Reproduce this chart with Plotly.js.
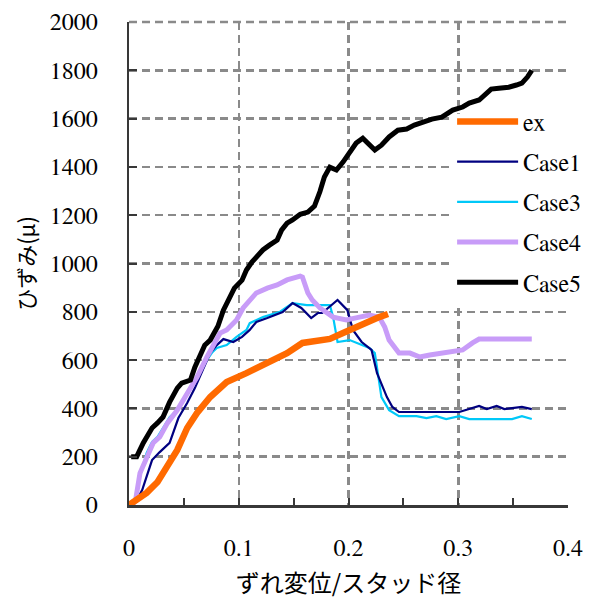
<!DOCTYPE html>
<html>
<head>
<meta charset="utf-8">
<script src="https://cdn.plot.ly/plotly-3.0.1.min.js"></script>
<style>
  html, body { margin: 0; padding: 0; background: #ffffff; }
  #chart { width: 593px; height: 599px; }
</style>
</head>
<body>
<div id="chart"></div>
<script>
// ずれ変位/スタッド径 vs ひずみ(μ)
const exX = [0, 0.007, 0.016, 0.026, 0.035, 0.044, 0.053, 0.062, 0.074, 0.089, 0.107, 0.126, 0.144, 0.158, 0.174, 0.183, 0.195, 0.207, 0.219, 0.228, 0.236];
const exY = [0, 21, 50, 95, 157, 228, 319, 381, 447, 509, 546, 588, 629, 671, 680, 688, 712, 737, 766, 778, 791];

const case1X = [0.003, 0.007, 0.012, 0.016, 0.021, 0.028, 0.037, 0.045, 0.053, 0.060, 0.067, 0.074, 0.080, 0.086, 0.095, 0.103, 0.110, 0.116, 0.126, 0.140, 0.149, 0.157, 0.166, 0.172, 0.176, 0.190, 0.199, 0.204, 0.212, 0.221, 0.226, 0.235, 0.240, 0.246, 0.301, 0.310, 0.319, 0.326, 0.335, 0.342, 0.349, 0.358, 0.367];
const case1Y = [0, 21, 62, 116, 186, 219, 257, 360, 422, 484, 559, 629, 662, 687, 675, 696, 725, 758, 774, 799, 836, 816, 774, 795, 795, 849, 807, 725, 675, 642, 546, 447, 406, 385, 385, 397, 410, 397, 410, 397, 402, 406, 397];

const case3X = [0.003, 0.006, 0.010, 0.016, 0.021, 0.026, 0.030, 0.037, 0.044, 0.049, 0.057, 0.065, 0.071, 0.076, 0.080, 0.089, 0.098, 0.107, 0.110, 0.122, 0.137, 0.149, 0.162, 0.172, 0.183, 0.186, 0.190, 0.201, 0.208, 0.219, 0.224, 0.230, 0.237, 0.246, 0.262, 0.271, 0.280, 0.289, 0.301, 0.310, 0.349, 0.358, 0.367];
const case3Y = [0, 21, 116, 215, 261, 282, 311, 364, 393, 435, 489, 546, 600, 633, 650, 662, 696, 725, 753, 778, 799, 836, 828, 828, 828, 778, 675, 683, 671, 650, 629, 447, 393, 368, 368, 360, 368, 356, 368, 356, 356, 368, 356];

const case4X = [0.003, 0.006, 0.010, 0.016, 0.022, 0.028, 0.035, 0.044, 0.053, 0.062, 0.071, 0.076, 0.083, 0.089, 0.098, 0.104, 0.110, 0.116, 0.126, 0.135, 0.144, 0.156, 0.158, 0.163, 0.167, 0.174, 0.186, 0.198, 0.210, 0.219, 0.228, 0.233, 0.237, 0.246, 0.256, 0.265, 0.274, 0.286, 0.298, 0.304, 0.313, 0.319, 0.367];
const case4Y = [0, 20, 132, 199, 257, 282, 339, 393, 464, 530, 613, 654, 712, 725, 766, 816, 849, 878, 898, 911, 932, 948, 944, 878, 849, 816, 778, 766, 778, 787, 778, 737, 683, 629, 629, 613, 621, 629, 642, 642, 671, 687, 687];

const case5X = [0.002, 0.007, 0.013, 0.021, 0.026, 0.031, 0.037, 0.044, 0.048, 0.056, 0.060, 0.066, 0.069, 0.074, 0.081, 0.086, 0.092, 0.096, 0.103, 0.107, 0.112, 0.116, 0.122, 0.128, 0.135, 0.139, 0.144, 0.149, 0.156, 0.163, 0.169, 0.174, 0.178, 0.183, 0.189, 0.195, 0.201, 0.207, 0.213, 0.217, 0.224, 0.230, 0.237, 0.245, 0.253, 0.260, 0.267, 0.276, 0.285, 0.295, 0.304, 0.310, 0.319, 0.326, 0.330, 0.337, 0.346, 0.353, 0.358, 0.363, 0.367];
const case5Y = [200, 200, 257, 319, 340, 364, 426, 484, 505, 517, 571, 633, 662, 683, 740, 807, 861, 898, 931, 973, 1006, 1027, 1056, 1076, 1097, 1138, 1167, 1180, 1204, 1213, 1238, 1298, 1358, 1399, 1387, 1420, 1461, 1499, 1519, 1503, 1470, 1490, 1524, 1552, 1557, 1573, 1586, 1598, 1606, 1635, 1648, 1664, 1677, 1706, 1722, 1726, 1730, 1739, 1747, 1772, 1800];

const xTickVals = [0, 0.1, 0.2, 0.3, 0.4];
const xTickText = ['0', '0.1', '0.2', '0.3', '0.4'];
const xMinorVals = [0.05, 0.15, 0.25, 0.35];
const yTickVals = [0, 200, 400, 600, 800, 1000, 1200, 1400, 1600, 1800, 2000];
const yTickText = yTickVals.map(String);

const serif = 'FreeSerif';
const jp = 'Noto Sans CJK JP';
const gridColor = '#8a8a8a';
const axisColor = '#383838';

function series(name, x, y, color, width, rank) {
  return {
    type: 'scatter', mode: 'lines', name: name, x: x, y: y,
    line: { color: color, width: width },
    legendgroup: name, legendrank: rank, hoverinfo: 'skip'
  };
}

// drawing order: thin lines underneath, Case5 on top
const data = [
  series('Case3', case3X, case3Y, '#00c8f8', 2.2, 3),
  series('Case1', case1X, case1Y, '#000080', 2.2, 2),
  series('Case4', case4X, case4Y, '#c89cf8', 5, 4),
  series('ex', exX, exY, '#ff6a00', 6.5, 1),
  series('Case5', case5X, case5Y, '#000000', 5, 5)
];

const layout = {
  width: 593, height: 599,
  margin: { l: 129, r: 25, t: 22, b: 94, autoexpand: false },
  paper_bgcolor: '#ffffff', plot_bgcolor: '#ffffff',
  showlegend: true,
  legend: {
    x: 0.736, y: 0.84, xanchor: 'left', yanchor: 'top',
    bgcolor: 'rgba(0,0,0,0)', borderwidth: 0,
    font: { family: serif, size: 24, color: '#000000' },
    itemwidth: 61, tracegroupgap: 6, traceorder: 'grouped'
  },
  // white panel behind the legend, above the grid
  shapes: [
    { type: 'rect', xref: 'paper', yref: 'paper', x0: 0.737, x1: 1.06, y0: 0.415, y1: 0.81,
      fillcolor: '#ffffff', line: { width: 0 }, layer: 'above' },
    { type: 'line', xref: 'paper', yref: 'paper', x0: 0, x1: 1, y0: 1, y1: 1,
      line: { color: gridColor, width: 2.5, dash: '8px,5px' }, layer: 'below' }
  ],
  xaxis: {
    range: [0, 0.4], fixedrange: true,
    tickmode: 'array', tickvals: xTickVals, ticktext: xTickText,
    ticks: 'inside', ticklen: 7, tickwidth: 2, tickcolor: axisColor,
    minor: { tickmode: 'array', tickvals: xMinorVals, ticks: 'inside', ticklen: 7, tickwidth: 2, tickcolor: axisColor, showgrid: false },
    showline: true, linecolor: axisColor, linewidth: 2.5,
    showgrid: true, gridcolor: gridColor, gridwidth: 2.5, griddash: '8px,5px',
    zeroline: false, ticklabelstandoff: 20,
    tickfont: { family: serif, size: 24, color: '#000000' },
    title: { text: 'ずれ変位/スタッド径', font: { family: jp, size: 24, color: '#000000' }, standoff: 25 }
  },
  yaxis: {
    range: [0, 2000], fixedrange: true,
    tickmode: 'array', tickvals: yTickVals, ticktext: yTickText,
    ticks: 'inside', ticklen: 8, tickwidth: 2, tickcolor: axisColor,
    showline: true, linecolor: axisColor, linewidth: 2.5,
    showgrid: true, gridcolor: gridColor, gridwidth: 2.5, griddash: '8px,5px',
    zeroline: false, ticklabelstandoff: 24,
    tickfont: { family: serif, size: 24, color: '#000000' },
    title: { text: 'ひずみ(μ)', font: { family: jp, size: 22, color: '#000000' }, standoff: 8 }
  }
};

Plotly.newPlot('chart', data, layout, { staticPlot: true, displayModeBar: false });
</script>
</body>
</html>
